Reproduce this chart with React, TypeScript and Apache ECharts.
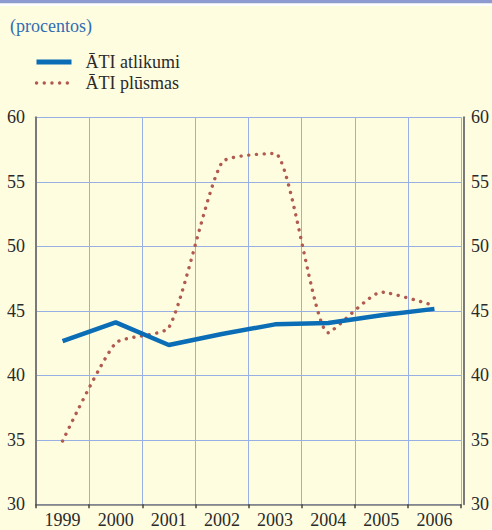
import React, { useEffect, useRef } from "react";
import * as echarts from "echarts";

const years = ["1999", "2000", "2001", "2002", "2003", "2004", "2005", "2006"];
const atlikumi = [42.65, 44.1, 42.35, 43.2, 43.95, 44.05, 44.65, 45.15];
const plusmas = [34.9, 42.5, 43.7, 56.5, 57.2, 43.3, 46.45, 45.4];
const yTicks = { min: 30, max: 60, interval: 5 };

const FONT = "Liberation Serif";
const GRID = "#98b0e4";
const AXIS = "#7a7a7a";
const TEXT = "#2a2a2a";
const BLUE = "#0b6db6";
const RED = "#b15a4f";

export default function App() {
  const ref = useRef<HTMLDivElement>(null);
  useEffect(() => {
    document.body.style.margin = "0";
    const chart = echarts.init(ref.current!, null, { renderer: "svg" });
    chart.setOption({
      animation: false,
      backgroundColor: "#fffde0",
      title: {
        text: "(procentos)",
        left: 5,
        top: 12,
        textStyle: { fontFamily: FONT, fontSize: 18, fontWeight: "normal", color: "#2f6db3" },
      },
      legend: {
        orient: "vertical",
        left: 29,
        top: 48,
        itemWidth: 35,
        itemHeight: 14,
        itemGap: 3,
        itemStyle: { opacity: 0 },
        textStyle: { fontFamily: FONT, fontSize: 18, color: TEXT, lineHeight: 18, padding: [0, 0, 0, 9] },
        data: [
          { name: "ĀTI atlikumi", lineStyle: { width: 5, color: BLUE } },
          { name: "ĀTI plūsmas", lineStyle: { width: 3.4, color: RED } },
        ],
      },
      graphic: [
        { type: "rect", left: 0, top: 0, shape: { width: 492, height: 3.5 }, style: { fill: "#8d9bd0" } },
        { type: "rect", left: 0, top: 3.5, shape: { width: 492, height: 2.5 }, style: { fill: "#ffffff" } },
      ],
      grid: { left: 36, right: 29, top: 117.3, height: 387 },
      xAxis: {
        type: "category",
        data: years,
        boundaryGap: true,
        axisLine: { lineStyle: { color: AXIS, width: 1.5 } },
        axisTick: { show: true, length: 4, lineStyle: { color: "#444", width: 1.5 } },
        axisLabel: { fontFamily: FONT, fontSize: 18, color: TEXT, margin: 7, interval: 0 },
        splitLine: { show: true, lineStyle: { color: GRID, width: 1 } },
      },
      yAxis: [
        {
          type: "value",
          ...yTicks,
          position: "left",
          axisLine: { show: true, lineStyle: { color: AXIS, width: 2 } },
          axisTick: { show: false },
          axisLabel: { fontFamily: FONT, fontSize: 18, color: TEXT, margin: 11 },
          splitLine: { show: true, lineStyle: { color: GRID, width: 1 } },
        },
        {
          type: "value",
          ...yTicks,
          position: "right",
          offset: 3,
          axisLine: { show: true, lineStyle: { color: AXIS, width: 2 } },
          axisTick: { show: false },
          axisLabel: { fontFamily: FONT, fontSize: 18, color: TEXT, margin: 7 },
          splitLine: { show: false },
        },
      ],
      series: [
        {
          name: "ĀTI atlikumi",
          type: "line",
          data: atlikumi,
          showSymbol: false,
          symbol: "none",
          lineStyle: { color: BLUE, width: 4.5 },
          itemStyle: { color: BLUE },
          z: 3,
        },
        {
          name: "ĀTI plūsmas",
          type: "line",
          data: plusmas,
          smooth: 0.18,
          showSymbol: false,
          symbol: "none",
          lineStyle: { color: RED, width: 3.4, type: [0.1, 7.6], cap: "round" },
          itemStyle: { color: RED },
          z: 2,
        },
      ],
    });
    return () => chart.dispose();
  }, []);
  return <div ref={ref} style={{ width: 492, height: 530 }} />;
}
